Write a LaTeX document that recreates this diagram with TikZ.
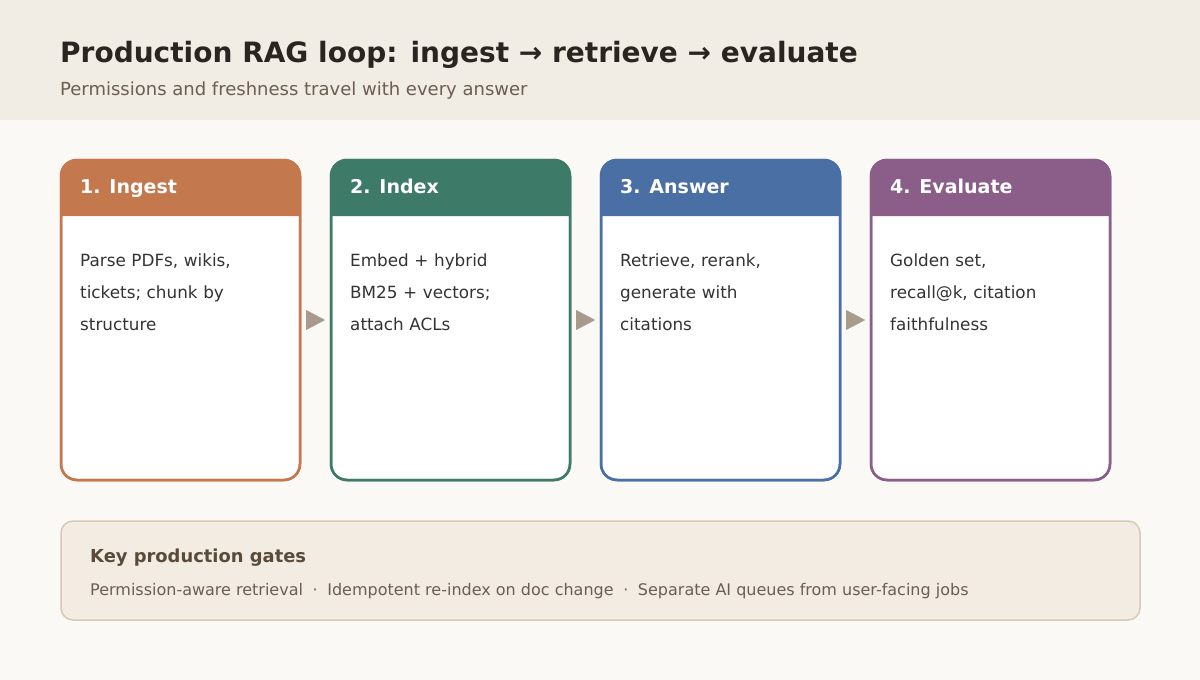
\documentclass[tikz,border=0pt]{standalone}
\usepackage{fontspec}
\setmainfont{DejaVu Sans}
\usetikzlibrary{arrows.meta,positioning}

\definecolor{pagebg}{HTML}{FAF9F6}
\definecolor{bandbg}{HTML}{F1ECE4}
\definecolor{titlec}{HTML}{2A2520}
\definecolor{subc}{HTML}{6B5E52}
\definecolor{bodyc}{HTML}{333333}
\definecolor{ingestc}{HTML}{C4784E}
\definecolor{indexc}{HTML}{3D7A68}
\definecolor{answerc}{HTML}{4A6FA5}
\definecolor{evalc}{HTML}{8B5E8A}
\definecolor{flowc}{HTML}{A89A8C}
\definecolor{gatebg}{HTML}{F2ECE3}
\definecolor{gateline}{HTML}{D8C9B5}
\definecolor{gatehead}{HTML}{5A4A3A}

\tikzset{
  card/.style={draw=#1,fill=white,line width=2.5pt,rounded corners=16pt,
    minimum width=239pt,minimum height=320pt,inner sep=0pt,outer sep=0pt},
  head/.style={anchor=base west,inner sep=0pt,text=white,
    font=\fontsize{19}{23}\selectfont\bfseries},
  body/.style={anchor=north west,inner sep=0pt,text=bodyc,text width=205pt,
    align=left,font=\fontsize{16.8}{32}\selectfont},
  flow/.style={-{Triangle[length=19pt,width=20pt]},flowc,line width=0.1pt,
    shorten <=6pt,shorten >=6pt},
}

\newcommand\gsep{\hspace{0.6em}·\hspace{0.6em}}

\begin{document}
\begin{tikzpicture}[x=1pt,y=-1pt]
\useasboundingbox (0,0) rectangle (1200,680);
\fill[pagebg] (0,0) rectangle (1200,680);
\fill[bandbg] (0,0) rectangle (1200,120);

\node (title) at (60,62.5) [anchor=base west,inner sep=0pt,text=titlec,
  font=\fontsize{28}{34}\selectfont\bfseries] {Production RAG loop: ingest → retrieve → evaluate};
\node (sub) at (60,95) [anchor=base west,inner sep=0pt,text=subc,
  font=\fontsize{18}{21}\selectfont] {Permissions and freshness travel with every answer};

% stages
\node (c1) at (180.5,320) [card=ingestc] {};
\node (c2) at (450.5,320) [card=indexc] {};
\node (c3) at (720.5,320) [card=answerc] {};
\node (c4) at (990.5,320) [card=evalc] {};

\foreach \c/\col in {c1/ingestc,c2/indexc,c3/answerc,c4/evalc}{
  \fill[\col] ([yshift=-56pt]\c.north west) [rounded corners=16pt] -- (\c.north west)
    -- (\c.north east) [sharp corners] -- ([yshift=-56pt]\c.north east) -- cycle;
  \draw[\col,line width=2.5pt,rounded corners=16pt] (\c.north west) rectangle (\c.south east);
}

\node (h1) at ([xshift=19pt,yshift=-33pt]c1.north west) [head] {1. Ingest};
\node (h2) at ([xshift=19pt,yshift=-33pt]c2.north west) [head] {2. Index};
\node (h3) at ([xshift=19pt,yshift=-33pt]c3.north west) [head] {3. Answer};
\node (h4) at ([xshift=19pt,yshift=-33pt]c4.north west) [head] {4. Evaluate};

\node (t1) at (80,254) [body] {Parse PDFs, wikis,\\tickets; chunk by\\structure};
\node (t2) at (350,254) [body] {Embed + hybrid\\BM25 + vectors;\\attach ACLs};
\node (t3) at (620,254) [body] {Retrieve, rerank,\\generate with\\citations};
\node (t4) at (890,254) [body] {Golden set,\\recall@k, citation\\faithfulness};

\draw[flow] (c1) -- (c2);
\draw[flow] (c2) -- (c3);
\draw[flow] (c3) -- (c4);

% gates
\node (gates) at (600.5,570.5) [draw=gateline,fill=gatebg,line width=1.5pt,
  rounded corners=12pt,minimum width=1079pt,minimum height=99pt,outer sep=0pt] {};
\node (gtitle) at (90,562) [anchor=base west,inner sep=0pt,text=gatehead,
  font=\fontsize{17.9}{21}\selectfont\bfseries] {Key production gates};
\node (glist) at (90,595) [anchor=base west,inner sep=0pt,text=subc,
  font=\fontsize{16}{19}\selectfont] {Permission-aware retrieval\gsep Idempotent re-index on doc change\gsep Separate AI queues from user-facing jobs};
\end{tikzpicture}
\end{document}
